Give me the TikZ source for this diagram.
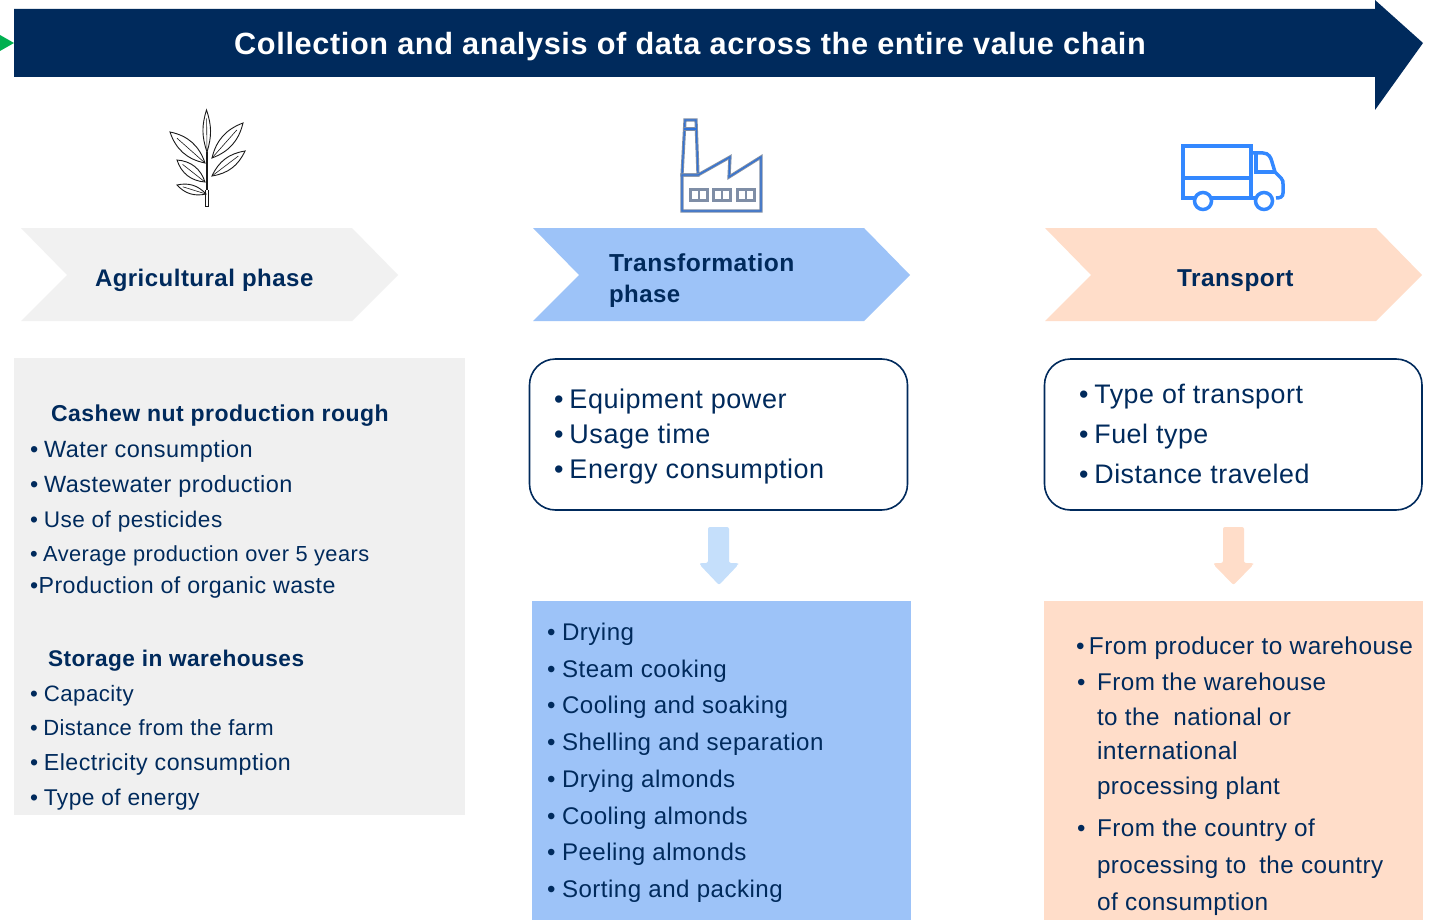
\documentclass[tikz,border=0pt]{standalone}
\usepackage{fontspec}
\setmainfont{Liberation Sans}
\newfontfamily\lsp[LetterSpace=2]{Liberation Sans}
\newfontfamily\lspb[LetterSpace=2]{Liberation Sans Bold}
\usetikzlibrary{calc}
\definecolor{navy}{HTML}{002A5C}
\definecolor{pgrey}{HTML}{F0F0F0}
\definecolor{pblue}{HTML}{9DC3F8}
\definecolor{ppeach}{HTML}{FFDDC9}
\definecolor{lblue}{HTML}{C5DFFB}
\definecolor{arrowgreen}{HTML}{00B050}
\definecolor{truckblue}{HTML}{3388FF}
\definecolor{factblue}{HTML}{2F72D8}
\definecolor{factgrey}{HTML}{7F8EA6}
\definecolor{leafc}{HTML}{1A1A1A}
\newcommand{\blt}[1]{•\kern #1pt }
\tikzset{
 x=1pt,y=-1pt,
 txt/.style={anchor=base west,inner sep=0pt,outer sep=0pt,text=navy},
 tF/.style={txt,font=\fontsize{#1}{30}\selectfont\lsp},
 tH/.style={txt,font=\fontsize{#1}{30}\selectfont\lspb},
 tT/.style={anchor=base west,inner sep=0pt,text=white,font=\fontsize{30.7}{36}\selectfont\lspb},
 roundbox/.style={draw=navy,line width=1.6pt,rounded corners=26pt,fill=white},
 leafline/.style={draw=leafc,line width=0.9pt},
 factline/.style={draw=factgrey,double=factblue,line width=1pt,double distance=1.2pt,fill=none},
 factwin/.style={draw=factgrey,line width=3pt,fill=none},
 truckline/.style={draw=truckblue,line width=3.5pt,line join=miter},
 downarrow/.style={rounded corners=2pt}
}
\newcommand{\leaf}[3]{%
 \draw[leafline] (#1) to[bend left=#3] (#2) to[bend left=#3] cycle;
 \draw[leafline,line width=0.6pt] (#1) -- ($(#1)!0.8!(#2)$);}
\begin{document}
\begin{tikzpicture}
\useasboundingbox (0,0) rectangle (1434,920);
\fill[white] (0,0) rectangle (1434,920);
% banner
\fill[arrowgreen] (0,35) -- (14,43) -- (0,51) -- cycle;
\fill[navy] (14,9) -- (1375,9) -- (1375,0) -- (1423,43) -- (1375,110) -- (1375,77) -- (14,77) -- cycle;
\node[tT] (title) at (234,55) {Collection and analysis of data across the entire value chain};
% leaf icon
\draw[draw=leafc,line width=1.8pt] (207,152) -- (207,190);
\draw[leafline] (205.5,190) -- (205.5,206) -- (208.5,206) -- (208.5,190);
\leaf{207,152}{206.5,110}{18}
\leaf{212,158}{243,123}{28}
\leaf{212,176}{245,151}{28}
\leaf{205,163}{170,132}{-30}
\leaf{205,182}{177,160}{-34}
\leaf{206,194}{177,185}{-30}
% factory icon
\draw[factline] (685,120) -- (696,120) -- (698,175) -- (682,175) -- cycle;
\draw[factline] (684,129) -- (696,129);
\draw[factline] (682,175) -- (698,175) -- (730,157) -- (729,177) -- (761,157) -- (761,211) -- (682,211) -- cycle;
\foreach \xa/\xb in {690/707,713/730,737/754}{
 \draw[factwin] (\xa,190) rectangle (\xb,201);
 \draw[factwin,line width=2pt] ({(\xa+\xb)/2},190) -- ({(\xa+\xb)/2},201);
}
% truck icon
\draw[truckline] (1194,198) -- (1183,198) -- (1183,146) -- (1251,146) -- (1251,198) -- (1212,198);
\draw[truckline] (1183,178) -- (1251,178);
\draw[truckline] (1251,153) -- (1263,153) .. controls (1269,153) and (1271,158) .. (1272,162) -- (1275,172) -- (1281,178) .. controls (1283,180) and (1283,182) .. (1283,184) -- (1283,193) .. controls (1283,197) and (1280,198) .. (1276,198);
\draw[truckline] (1256,153) -- (1256,172) -- (1275,172);
\draw[truckline] (1203,201) circle (8.5);
\draw[truckline] (1264,201) circle (8.5);
\draw[truckline] (1251,198) -- (1255,198);
% phase chevrons
\fill[pgrey!95!white] (21,228) -- (352,228) -- (398,275) -- (352,321) -- (21,321) -- (67,275) -- cycle;
\fill[pblue] (533,228) -- (864,228) -- (910,275) -- (864,321) -- (533,321) -- (579,275) -- cycle;
\fill[ppeach] (1045,228) -- (1376,228) -- (1422,275) -- (1376,321) -- (1045,321) -- (1091,275) -- cycle;
\node[tH=24] (agri) at (95,286) {Agricultural phase};
\node[tH=24.6] (trans1) at (609,271) {Transformation};
\node[tH=24] (trans2) at (609,302) {phase};
\node[tH=24.4] (transp) at (1177,286) {Transport};
% left panel
\fill[pgrey] (14,358) rectangle (465,815);
\node[tH=23] (h1) at (51,421) {Cashew nut production rough};
\node[tF=23.5] (l1) at (30,457.5) {\blt{5.8}Water consumption};
\node[tF=23.5] (l2) at (30,492) {\blt{5.8}Wastewater production};
\node[tF=22.6] (l3) at (30,527) {\blt{6}Use of pesticides};
\node[tF=21.8] (l4) at (30,561) {\blt{5.6}Average production over 5 years};
\node[tF=23.2] (l5) at (30,593) {•Production of organic waste};
\node[tH=22.65] (h2) at (48,666) {Storage in warehouses};
\node[tF=22.3] (l6) at (30,701) {\blt{6}Capacity};
\node[tF=22] (l7) at (30,735) {\blt{5.6}Distance from the farm};
\node[tF=23.2] (l8) at (30,770) {\blt{5.8}Electricity consumption};
\node[tF=22.8] (l9) at (30,805) {\blt{5.8}Type of energy};
% rounded boxes
\draw[roundbox] (529.5,359) rectangle (907.5,510);
\draw[roundbox] (1044.5,359) rectangle (1422,510);
\node[tF=27] (e1) at (554,408) {\blt{6}Equipment power};
\node[tF=27] (e2) at (554,443) {\blt{6}Usage time};
\node[tF=27] (e3) at (554,478) {\blt{6}Energy consumption};
\node[tF=26.8] (f1) at (1079,403) {\blt{6}Type of transport};
\node[tF=26.8] (f2) at (1079,443) {\blt{6}Fuel type};
\node[tF=26.8] (f3) at (1079,483) {\blt{6}Distance traveled};
% down arrows
\fill[lblue,downarrow] (708,527) -- (729,527) -- (729,563) -- (738,563) -- (738,565) -- (719,585) -- (700,565) -- (700,563) -- (708,563) -- cycle;
\fill[ppeach,downarrow] (1223,527) -- (1244,527) -- (1244,563) -- (1253,563) -- (1253,565) -- (1233.5,585) -- (1214,565) -- (1214,563) -- (1223,563) -- cycle;
% lower panels
\fill[pblue] (532,601) rectangle (911,920);
\fill[ppeach] (1044,601) rectangle (1423,920);
\node[tF=24.1] (d1) at (547,640) {\blt{6.6}Drying};
\node[tF=24.1] (d2) at (547,677) {\blt{6.6}Steam cooking};
\node[tF=24.1] (d3) at (547,713) {\blt{6.6}Cooling and soaking};
\node[tF=24.1] (d4) at (547,750) {\blt{6.6}Shelling and separation};
\node[tF=24.1] (d5) at (547,787) {\blt{6.6}Drying almonds};
\node[tF=24.1] (d6) at (547,824) {\blt{6.6}Cooling almonds};
\node[tF=24.1] (d7) at (547,860) {\blt{6.6}Peeling almonds};
\node[tF=24.1] (d8) at (547,897) {\blt{6.6}Sorting and packing};
\node[tF=24.4] (p1) at (1076,654) {\blt{4.4}From producer to warehouse};
\node[tF=24] (p2b) at (1077,690) {•};
\node[tF=24.2] (p2) at (1097,690) {From the warehouse};
\node[tF=24.2] (p3) at (1097,725) {to the\kern 14pt national or};
\node[tF=24.7] (p4) at (1097,759) {international};
\node[tF=24.2] (p5) at (1097,794) {processing plant};
\node[tF=24] (p6b) at (1077,836) {•};
\node[tF=24.3] (p6) at (1097,836) {From the country of};
\node[tF=24.2] (p7) at (1097,873) {processing to\kern 13pt the country};
\node[tF=24.4] (p8) at (1097,910) {of consumption};
\end{tikzpicture}
\end{document}
